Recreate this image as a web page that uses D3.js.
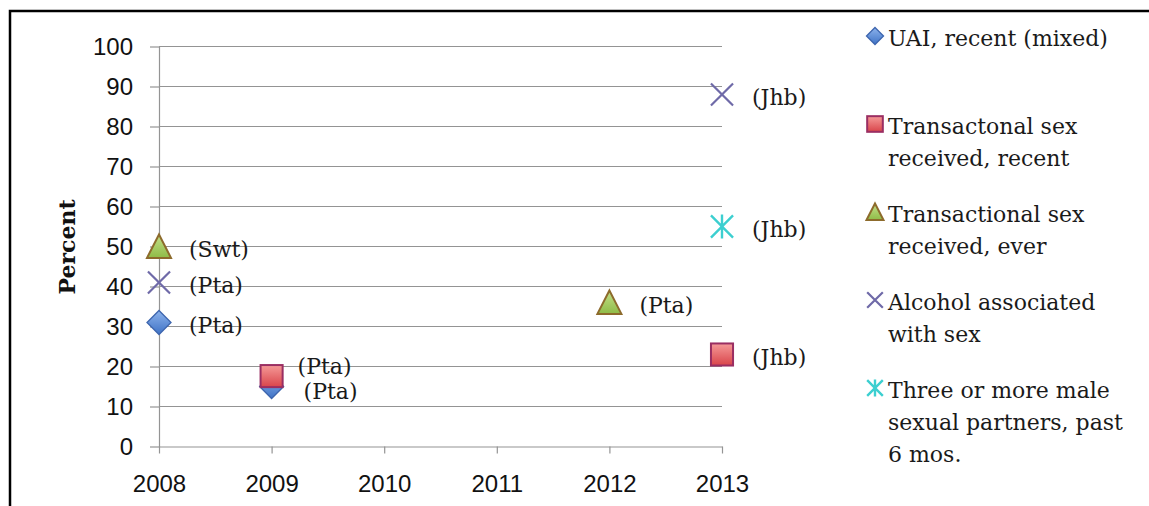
<!DOCTYPE html>
<html><head><meta charset="utf-8">
<script src="https://cdn.jsdelivr.net/npm/d3@7"></script>
<style>body{margin:0;background:#fff;} svg{display:block}</style>
</head><body><svg id="c" width="1149" height="506"></svg>
<script>
// ---------- data ----------
const years = [2008, 2009, 2010, 2011, 2012, 2013];
const yTicks = [0, 10, 20, 30, 40, 50, 60, 70, 80, 90, 100];
const yAxisTitle = "Percent";

const seriesKeys = ["uai", "tsRecent", "tsEver", "alcohol", "partners"];
const seriesNames = [
  "UAI, recent (mixed)",
  "Transactonal sex received, recent",
  "Transactional sex received, ever",
  "Alcohol associated with sex",
  "Three or more male sexual partners, past 6 mos."
];
const legendLines = [
  ["UAI, recent (mixed)"],
  ["Transactonal sex", "received, recent"],
  ["Transactional sex", "received, ever"],
  ["Alcohol associated", "with sex"],
  ["Three or more male", "sexual partners, past", "6 mos."]
];

const uaiYears = [2008, 2009];
const uaiValues = [31, 15];
const uaiSites = ["(Pta)", "(Pta)"];

const tsRecentYears = [2009, 2013];
const tsRecentValues = [17.6, 23];
const tsRecentSites = ["(Pta)", "(Jhb)"];

const tsEverYears = [2008, 2012];
const tsEverValues = [50, 36];
const tsEverSites = ["(Swt)", "(Pta)"];

const alcoholYears = [2008, 2013];
const alcoholValues = [41, 88];
const alcoholSites = ["(Pta)", "(Jhb)"];

const partnersYears = [2013];
const partnersValues = [55];
const partnersSites = ["(Jhb)"];

// ---------- build ----------
const seriesData = {
  uai: uaiYears.map((yr, i) => ({year: yr, value: uaiValues[i], site: uaiSites[i]})),
  tsRecent: tsRecentYears.map((yr, i) => ({year: yr, value: tsRecentValues[i], site: tsRecentSites[i]})),
  tsEver: tsEverYears.map((yr, i) => ({year: yr, value: tsEverValues[i], site: tsEverSites[i]})),
  alcohol: alcoholYears.map((yr, i) => ({year: yr, value: alcoholValues[i], site: alcoholSites[i]})),
  partners: partnersYears.map((yr, i) => ({year: yr, value: partnersValues[i], site: partnersSites[i]}))
};

const svg = d3.select("#c");

// outer border
svg.append("rect").attr("x", 10).attr("y", 11).attr("width", 1300).attr("height", 700)
  .attr("fill", "none").attr("stroke", "#000").attr("stroke-width", 2.5);

const defs = svg.append("defs");
function grad(id, c1, c2) {
  const g = defs.append("linearGradient").attr("id", id).attr("x1", 0).attr("y1", 0).attr("x2", 0).attr("y2", 1);
  g.append("stop").attr("offset", "0%").attr("stop-color", c1);
  g.append("stop").attr("offset", "100%").attr("stop-color", c2);
}
grad("gBlue", "#8db3ec", "#3f73c6");
grad("gRed", "#f59a98", "#d9444a");
grad("gGreen", "#c4e08a", "#8fbb47");

const plotL = 159, plotR = 722, plotT = 46.5, plotB = 446.5;
const x = d3.scaleLinear().domain([years[0], years[years.length - 1]]).range([plotL, plotR]);
const y = d3.scaleLinear().domain([0, 100]).range([plotB, plotT]);

const gridColor = "#949494";

// gridlines
svg.append("g").selectAll("line").data(yTicks.filter(t => t > 0)).join("line")
  .attr("x1", plotL).attr("x2", plotR)
  .attr("y1", d => y(d)).attr("y2", d => y(d))
  .attr("stroke", gridColor).attr("stroke-width", 1.2);

// y axis
const yAxis = svg.append("g").attr("transform", `translate(${plotL},0)`)
  .call(d3.axisLeft(y).tickValues(yTicks).tickSize(9).tickSizeOuter(0).tickPadding(17));
yAxis.select(".domain").attr("stroke", gridColor).attr("stroke-width", 1.2);
yAxis.selectAll(".tick line").attr("stroke", gridColor).attr("stroke-width", 1.2);
yAxis.selectAll("text").attr("font-family", "Liberation Sans, Arial, sans-serif")
  .attr("font-size", 24).attr("fill", "#111");

// x axis
const xAxis = svg.append("g").attr("transform", `translate(0,${plotB})`)
  .call(d3.axisBottom(x).tickValues(years).tickFormat(d3.format("d")).tickSize(7).tickSizeOuter(0).tickPadding(21));
xAxis.select(".domain").attr("stroke", gridColor).attr("stroke-width", 1.2);
xAxis.selectAll(".tick line").attr("stroke", gridColor).attr("stroke-width", 1.2);
xAxis.selectAll("text").attr("font-family", "Liberation Sans, Arial, sans-serif")
  .attr("font-size", 24).attr("fill", "#111");

// y title
svg.append("text").attr("transform", "translate(67,247) rotate(-90)")
  .attr("text-anchor", "middle").attr("dominant-baseline", "central")
  .attr("font-family", "DejaVu Serif, serif").attr("font-weight", "bold").attr("font-size", 22)
  .attr("fill", "#111").text(yAxisTitle);

// marker drawing
function drawMarker(g, key, cx, cy, s) {
  const h = s / 2;
  if (key === "uai") {
    g.append("path").attr("d", `M${cx},${cy - h}L${cx + h},${cy}L${cx},${cy + h}L${cx - h},${cy}Z`)
      .attr("fill", "url(#gBlue)").attr("stroke", "#3d65ae").attr("stroke-width", 1.3);
  } else if (key === "tsRecent") {
    const q = h * 0.92;
    g.append("rect").attr("x", cx - q).attr("y", cy - q).attr("width", 2 * q).attr("height", 2 * q)
      .attr("fill", "url(#gRed)").attr("stroke", "#9a2e62").attr("stroke-width", 2);
  } else if (key === "tsEver") {
    g.append("path").attr("d", `M${cx},${cy - h}L${cx + h},${cy + h * 0.95}L${cx - h},${cy + h * 0.95}Z`)
      .attr("fill", "url(#gGreen)").attr("stroke", "#8d6b2c").attr("stroke-width", 2).attr("stroke-linejoin", "miter");
  } else if (key === "alcohol") {
    const q = h * 0.92;
    g.append("path").attr("d", `M${cx - q},${cy - q}L${cx + q},${cy + q}M${cx + q},${cy - q}L${cx - q},${cy + q}`)
      .attr("stroke", "#6f6aa8").attr("stroke-width", 2.2).attr("fill", "none");
  } else if (key === "partners") {
    const q = h * 0.92;
    g.append("path").attr("d", `M${cx - q},${cy - q}L${cx + q},${cy + q}M${cx + q},${cy - q}L${cx - q},${cy + q}M${cx},${cy - h}L${cx},${cy + h}`)
      .attr("stroke", "#3ccfd0").attr("stroke-width", 2.4).attr("fill", "none");
  }
}

// label nudges for overlapping labels (Excel manual placement)
const labelNudge = {"tsRecent-2009": [-4, -13], "uai-2009": [2, 2]};

const marks = svg.append("g");
const labels = svg.append("g");
seriesKeys.forEach(key => {
  seriesData[key].forEach(d => {
    const cx = x(d.year), cy = y(d.value);
    drawMarker(marks, key, cx, cy, 24);
    const n = labelNudge[key + "-" + d.year] || [0, 0];
    labels.append("text").attr("x", cx + 30 + n[0]).attr("y", cy + 3 + n[1])
      .attr("dominant-baseline", "central")
      .attr("font-family", "DejaVu Serif, serif").attr("font-size", 22).attr("fill", "#1a1a1a")
      .text(d.site);
  });
});

// legend
const legY = d3.scalePoint().domain(seriesKeys).range([38, 390]);
const leg = svg.append("g");
seriesKeys.forEach((key, i) => {
  const yy = legY(key);
  drawMarker(leg, key, 875, yy - 2, 17);
  legendLines[i].forEach((ln, j) => {
    leg.append("text").attr("x", 888).attr("y", yy + j * 32)
      .attr("dominant-baseline", "central")
      .attr("font-family", "DejaVu Serif, serif").attr("font-size", 22).attr("fill", "#1a1a1a")
      .text(ln);
  });
});
</script>
</body></html>
